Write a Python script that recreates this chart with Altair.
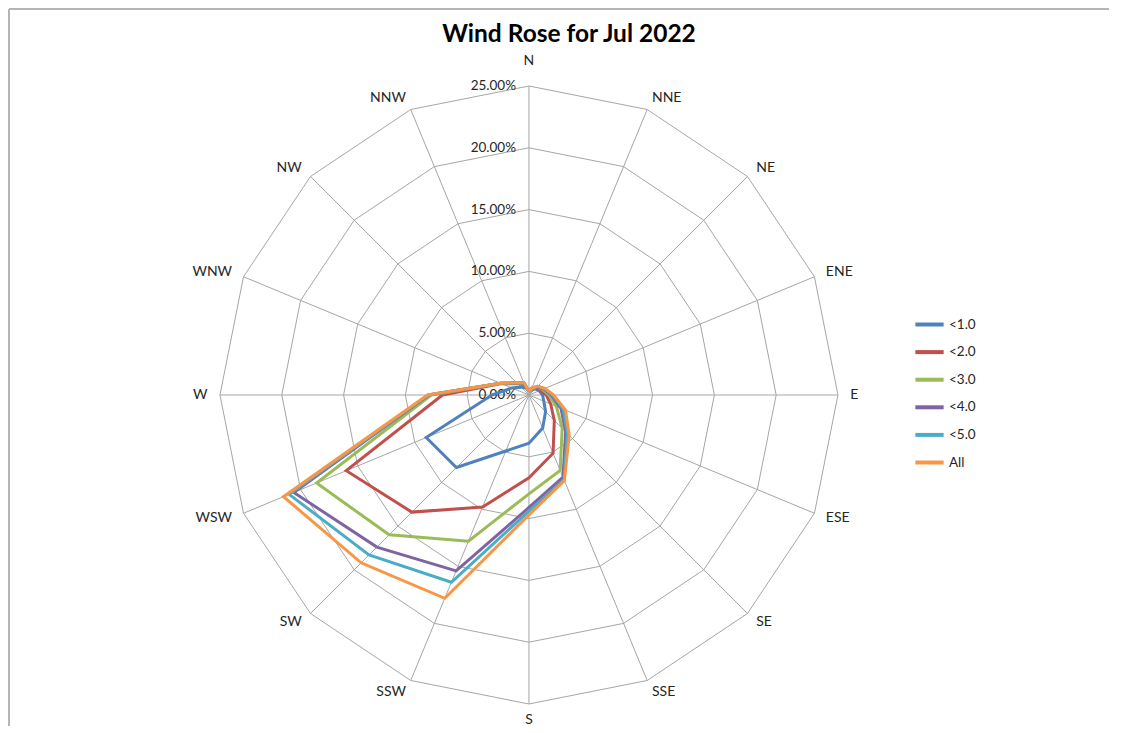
import altair as alt
import pandas as pd

# ---- data ----
directions = ["N", "NNE", "NE", "ENE", "E", "ESE", "SE", "SSE",
              "S", "SSW", "SW", "WSW", "W", "WNW", "NW", "NNW"]
series_names = ["<1.0", "<2.0", "<3.0", "<4.0", "<5.0", "All"]
v_lt1 = [0.3, 0.4, 0.7, 0.9, 1.1, 1.3, 1.9, 2.9, 3.9, 4.9, 8.3, 9.0, 3.0, 1.5, 0.9, 0.6]
v_lt2 = [0.3, 0.5, 0.8, 1.0, 1.4, 1.9, 2.9, 5.1, 6.7, 9.8, 13.4, 16.0, 7.0, 2.4, 1.3, 0.9]
v_lt3 = [0.3, 0.5, 0.9, 1.2, 1.6, 2.4, 3.8, 6.6, 8.0, 12.8, 16.0, 18.6, 7.9, 2.5, 1.35, 1.0]
v_lt4 = [0.3, 0.6, 0.9, 1.3, 1.8, 2.8, 4.2, 7.2, 9.1, 15.4, 17.4, 20.6, 8.1, 2.5, 1.4, 1.05]
v_lt5 = [0.3, 0.6, 1.0, 1.35, 1.9, 3.0, 4.4, 7.4, 9.4, 16.4, 18.3, 21.0, 8.15, 2.5, 1.4, 1.07]
v_all = [0.3, 0.6, 1.0, 1.4, 2.0, 3.2, 4.6, 7.5, 9.7, 17.8, 19.2, 21.5, 8.2, 2.5, 1.4, 1.07]
series_values = [v_lt1, v_lt2, v_lt3, v_lt4, v_lt5, v_all]
colors = ["#4F81BD", "#C0504D", "#9BBB59", "#8064A2", "#4BACC6", "#F79646"]
tick_values = [0, 5, 10, 15, 20, 25]
tick_labels = ["0.00%", "5.00%", "10.00%", "15.00%", "20.00%", "25.00%"]
title_text = "Wind Rose for Jul 2022"

FONT = "Lato"
W, H = 1100, 717
xs = alt.Scale(domain=[-42.07, 46.93], nice=False, zero=False)
ys = alt.Scale(domain=[-26.78, 31.23], nice=False, zero=False)
n = len(directions)
rmax = tick_values[-1]

# series table (closed polygons)
rows = []
for name, vals in zip(series_names, series_values):
    for k in range(n + 1):
        rows.append({"series": name, "idx": k % n, "order": k, "value": vals[k % n]})
series_df = pd.DataFrame(rows)

ring_rows = []
for lv in tick_values[1:]:
    for k in range(n + 1):
        ring_rows.append({"level": lv, "idx": k % n, "order": k})
ring_df = pd.DataFrame(ring_rows)

spoke_df = pd.DataFrame({"idx": list(range(n)), "dir": directions})
tick_df = pd.DataFrame({"v": tick_values, "label": tick_labels})

ang = "datum.idx * PI / 8"
XE = dict(scale=xs, axis=None)
YE = dict(scale=ys, axis=None)

rings = alt.Chart(ring_df).mark_line(color="#a6a6a6", strokeWidth=1).transform_calculate(
    x=f"datum.level * sin({ang})", y=f"datum.level * cos({ang})"
).encode(
    x=alt.X("x:Q", **XE), y=alt.Y("y:Q", **YE),
    detail="level:N", order="order:Q",
)

spokes = alt.Chart(spoke_df).mark_rule(color="#a6a6a6", strokeWidth=1).transform_calculate(
    x0="0", y0="0",
    x1=f"{rmax} * sin({ang})", y1=f"{rmax} * cos({ang})"
).encode(
    x=alt.X("x0:Q", **XE), y=alt.Y("y0:Q", **YE),
    x2="x1:Q", y2="y1:Q",
)


def dir_layer(filter_expr, align, radius):
    return alt.Chart(spoke_df).mark_text(
        font=FONT, fontSize=14, color="#262626", align=align, baseline="middle"
    ).transform_calculate(
        s=f"sin({ang})", c=f"cos({ang})"
    ).transform_filter(filter_expr).transform_calculate(
        x=f"{radius} * datum.s", y=f"{radius} * datum.c"
    ).encode(
        x=alt.X("x:Q", **XE), y=alt.Y("y:Q", **YE), text="dir:N",
    )


dir_right = dir_layer("datum.s > 0.01", "left", 26.0)
dir_left = dir_layer("datum.s < -0.01", "right", 26.0)
dir_top = dir_layer("abs(datum.s) <= 0.01 && datum.c > 0", "center", 27.0)
dir_bottom = dir_layer("abs(datum.s) <= 0.01 && datum.c < 0", "center", 26.3)

tick_text = alt.Chart(tick_df).mark_text(
    font=FONT, fontSize=13.5, color="#262626", align="right", baseline="middle", dx=-13
).transform_calculate(x0="0").encode(
    x=alt.X("x0:Q", **XE), y=alt.Y("v:Q", **YE), text="label:N",
)

lines = alt.Chart(series_df).mark_line(strokeWidth=3, strokeJoin="miter").transform_calculate(
    x=f"datum.value * sin({ang})", y=f"datum.value * cos({ang})"
).encode(
    x=alt.X("x:Q", **XE), y=alt.Y("y:Q", **YE),
    color=alt.Color(
        "series:N",
        scale=alt.Scale(domain=series_names, range=colors),
        sort=series_names,
        legend=alt.Legend(
            title=None, orient="none", legendX=904, legendY=299,
            symbolType="stroke", symbolSize=800, symbolStrokeWidth=4,
            labelFont=FONT, labelFontSize=13.5, labelColor="#262626",
            labelOffset=3, rowPadding=2.6, padding=0,
        ),
    ),
    order="order:Q",
)

title = alt.Chart(pd.DataFrame({"t": [title_text]})).mark_text(
    font=FONT, fontSize=24.5, fontWeight="bold", color="#000000", align="center", baseline="middle"
).encode(x=alt.value(560), y=alt.value(26), text="t:N")

border = alt.Chart(pd.DataFrame({"a": [0]})).mark_rule(color="#b5b5b5", strokeWidth=2).encode(
    x=alt.value(0), x2=alt.value(W), y=alt.value(0)
)
border_left = alt.Chart(pd.DataFrame({"a": [0]})).mark_rule(color="#b5b5b5", strokeWidth=2).encode(
    x=alt.value(0), y=alt.value(0), y2=alt.value(H)
)

chart = alt.layer(
    border, border_left, rings, spokes, dir_right, dir_left, dir_top, dir_bottom,
    tick_text, lines, title
).properties(width=W, height=H, padding=0, background="white").configure_view(stroke=None)

chart.save("out.html", embed_options={"renderer": "svg", "actions": False})
